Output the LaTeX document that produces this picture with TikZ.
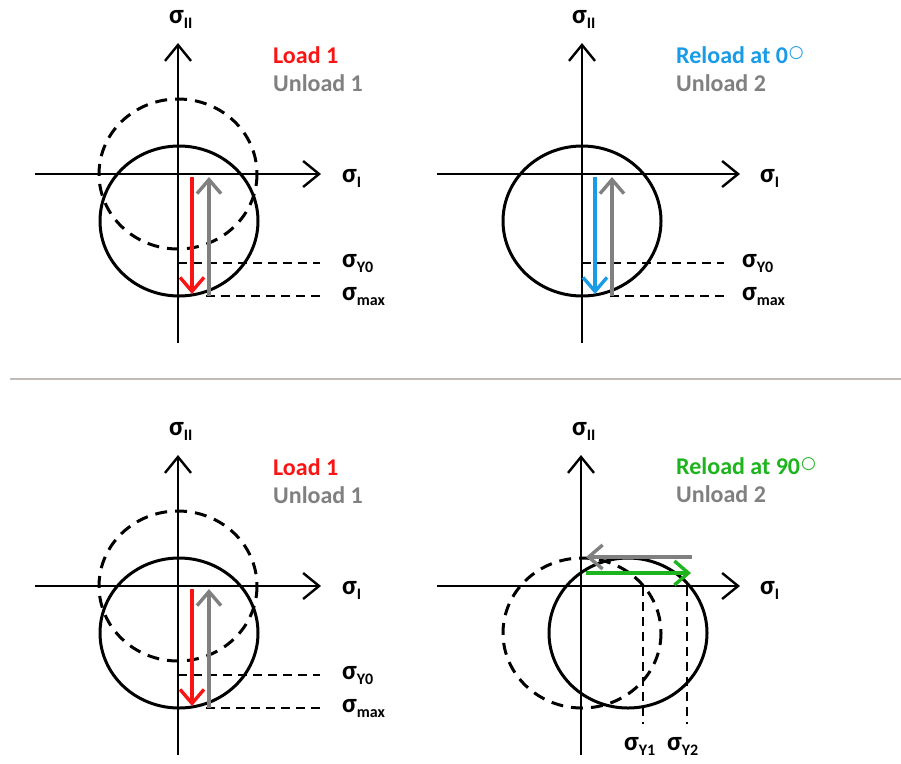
\documentclass[tikz,border=0pt]{standalone}
\usepackage{fontspec}
\setmainfont{Carlito}
\newfontfamily\dejavu{DejaVu Sans}
\usetikzlibrary{arrows.meta}
\definecolor{cred}{RGB}{250,20,20}
\definecolor{cblue}{RGB}{25,155,230}
\definecolor{cgreen}{RGB}{30,180,30}
\definecolor{cgray}{RGB}{128,128,128}
\definecolor{csep}{RGB}{195,188,182}
\newcommand{\sgl}[1]{{\fontsize{27}{27}\selectfont\textbf{σ}}\raisebox{-5pt}{\fontsize{16}{16}\selectfont\textbf{#1}}}
\newcommand{\dg}{\hspace{1pt}\raisebox{6pt}{\dejavu\fontsize{17}{17}\selectfont ○}}
\begin{document}
\begin{tikzpicture}[x=1pt,y=-1pt,
  axisline/.style={line width=2.4pt,-{Straight Barb[length=16pt,width=26pt,line width=2.4pt]}},
  yield/.style={line width=3pt},
  oldyield/.style={line width=3pt,dash pattern=on 12pt off 8pt},
  guide/.style={line width=2.2pt,dash pattern=on 9pt off 6pt},
  pathar/.style={line width=3.4pt,-{Straight Barb[length=14pt,width=24pt,line width=3.4pt]}},
  lbl/.style={anchor=base west,inner sep=0pt,font=\fontsize{24}{24}\selectfont},
  sig/.style={anchor=base west,inner sep=0pt}]
\useasboundingbox (0,0) rectangle (901,763);
\fill[white] (0,0) rectangle (901,763);

% separator
\coordinate (sepL) at (10,379);
\coordinate (sepR) at (901,379);
\draw[csep,line width=2pt] (sepL) -- (sepR);

% ===== Panel 1 (top-left) and Panel 3 (bottom-left) =====
\foreach \dy/\p in {0/a,412/c}{
\begin{scope}[yshift=-\dy pt]
  \coordinate (\p o) at (178,174);
  \coordinate (\p vb) at (178,343);
  \coordinate (\p vt) at (178,43);
  \coordinate (\p hl) at (35,174);
  \coordinate (\p hr) at (321,174);
  \draw[oldyield] (\p o) ellipse [x radius=79, y radius=75];
  \draw[yield] (179,221) ellipse [x radius=79, y radius=75];
  \draw[axisline] (\p vb) -- (\p vt);
  \draw[axisline] (\p hl) -- (\p hr);
  \coordinate (\p y0a) at (178,263);
  \coordinate (\p y0b) at (320,263);
  \coordinate (\p mxa) at (206,296);
  \coordinate (\p mxb) at (320,296);
  \draw[guide] (\p y0a) -- (\p y0b);
  \draw[guide] (\p mxa) -- (\p mxb);
  \coordinate (\p ls) at (192,177);
  \coordinate (\p le) at (192,294);
  \coordinate (\p us) at (209,296);
  \coordinate (\p ue) at (209,177);
  \draw[pathar,cred] (\p ls) -- (\p le);
  \draw[pathar,cgray] (\p us) -- (\p ue);
  \node[sig] (\p sII) at (169,23) {\sgl{II}};
  \node[sig] (\p sI) at (342,182) {\sgl{I}};
  \node[sig] (\p sY) at (342,267) {\sgl{Y0}};
  \node[sig] (\p sM) at (342,300) {\sgl{max}};
  \node[lbl,text=cred] (\p t1) at (273,63) {\textbf{Load 1}};
  \node[lbl,text=cgray] (\p t2) at (273,91) {\textbf{Unload 1}};
\end{scope}}

% ===== Panel 2 (top-right) =====
\coordinate (bvb) at (582,343);
\coordinate (bvt) at (582,43);
\coordinate (bhl) at (437,174);
\coordinate (bhr) at (740,174);
\draw[yield] (582,221) ellipse [x radius=79, y radius=75];
\draw[axisline] (bvb) -- (bvt);
\draw[axisline] (bhl) -- (bhr);
\coordinate (by0a) at (582,263);
\coordinate (by0b) at (724,263);
\coordinate (bmxa) at (610,296);
\coordinate (bmxb) at (724,296);
\draw[guide] (by0a) -- (by0b);
\draw[guide] (bmxa) -- (bmxb);
\coordinate (bls) at (595,177);
\coordinate (ble) at (595,294);
\coordinate (bus) at (612,296);
\coordinate (bue) at (612,177);
\draw[pathar,cblue] (bls) -- (ble);
\draw[pathar,cgray] (bus) -- (bue);
\node[sig] (bsII) at (572,23) {\sgl{II}};
\node[sig] (bsI) at (760,182) {\sgl{I}};
\node[sig] (bsY) at (742,267) {\sgl{Y0}};
\node[sig] (bsM) at (742,300) {\sgl{max}};
\node[lbl,text=cblue] (bt1) at (676,63) {\textbf{Reload at 0}\dg};
\node[lbl,text=cgray] (bt2) at (676,91) {\textbf{Unload 2}};

% ===== Panel 4 (bottom-right) =====
\coordinate (dvb) at (581,755);
\coordinate (dvt) at (581,455);
\coordinate (dhl) at (437,586);
\coordinate (dhr) at (740,586);
\draw[oldyield] (582,633) ellipse [x radius=79, y radius=75];
\draw[yield] (628,633) ellipse [x radius=79, y radius=75];
\draw[axisline] (dvb) -- (dvt);
\draw[axisline] (dhl) -- (dhr);
\coordinate (dy1a) at (643,587);
\coordinate (dy1b) at (643,724);
\coordinate (dy2a) at (687,587);
\coordinate (dy2b) at (687,724);
\draw[guide] (dy1a) -- (dy1b);
\draw[guide] (dy2a) -- (dy2b);
\coordinate (dgs) at (586,573);
\coordinate (dge) at (691,573);
\coordinate (dus) at (692,557);
\coordinate (due) at (586,557);
\draw[pathar,cgray] (dus) -- (due);
\draw[pathar,cgreen] (dgs) -- (dge);
\node[sig] (dsII) at (572,435) {\sgl{II}};
\node[sig] (dsI) at (760,594) {\sgl{I}};
\node[sig] (dsY1) at (624,750) {\sgl{Y1}};
\node[sig] (dsY2) at (667,750) {\sgl{Y2}};
\node[lbl,text=cgreen] (dt1) at (676,474) {\textbf{Reload at 90}\dg};
\node[lbl,text=cgray] (dt2) at (676,502) {\textbf{Unload 2}};
\end{tikzpicture}
\end{document}
